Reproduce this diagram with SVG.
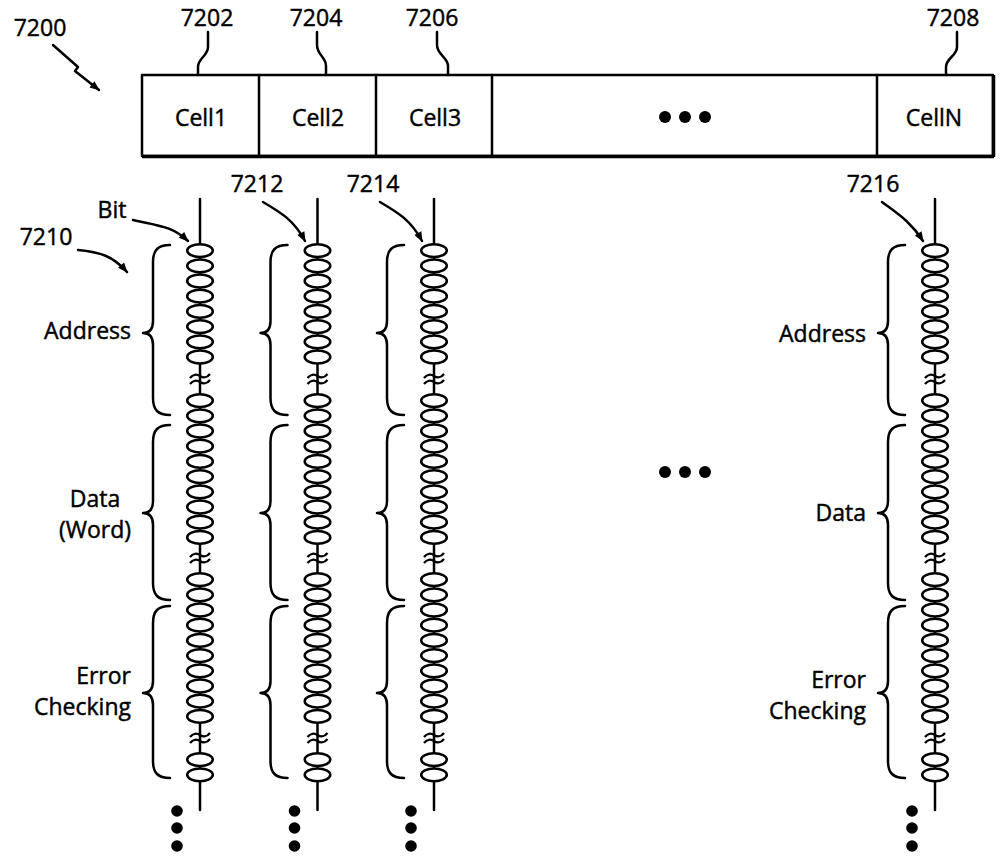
<svg xmlns="http://www.w3.org/2000/svg" xmlns:xlink="http://www.w3.org/1999/xlink" width="1004" height="858" viewBox="0 0 1004 858">
<style>
.s{fill:none;stroke:#000;stroke-width:2.5;stroke-linecap:round;stroke-linejoin:round}
.e{fill:#fff;stroke:#000;stroke-width:2.5}
.t{fill:none;stroke:#000;stroke-width:2.2}
.d{fill:#000}
text{font-family:"Open Sans","Noto Sans","DejaVu Sans",sans-serif;font-size:23px;fill:#000;stroke:#000;stroke-width:0.45}
.m{text-anchor:middle}
.r{text-anchor:end}
</style>
<defs>
<marker id="ah" viewBox="0 0 10 8" refX="9" refY="4" markerWidth="11" markerHeight="8" markerUnits="userSpaceOnUse" orient="auto">
<path d="M0,0 L10,4 L0,8 Z" fill="#000"/>
</marker>
<ellipse id="bit" cx="0" cy="0" rx="12.8" ry="6.4" class="e"/>
<path id="tilde" d="M-10,2 C-7,-2 -3,-2 0,0 S7,2 10,-2" class="t"/>
<g id="column">
<line x1="0" y1="199" x2="0" y2="810" class="s"/>
<use href="#bit" y="250.6"/><use href="#bit" y="265.8"/><use href="#bit" y="281"/><use href="#bit" y="296.2"/><use href="#bit" y="311.4"/><use href="#bit" y="326.6"/><use href="#bit" y="341.8"/><use href="#bit" y="357"/>
<use href="#tilde" y="376"/><use href="#tilde" y="382"/>
<use href="#bit" y="400.6"/><use href="#bit" y="415.8"/><use href="#bit" y="431"/><use href="#bit" y="446.2"/><use href="#bit" y="461.4"/><use href="#bit" y="476.6"/><use href="#bit" y="491.8"/><use href="#bit" y="507"/><use href="#bit" y="522.2"/><use href="#bit" y="537.4"/>
<use href="#tilde" y="555"/><use href="#tilde" y="561"/>
<use href="#bit" y="579.6"/><use href="#bit" y="594.8"/><use href="#bit" y="610"/><use href="#bit" y="625.2"/><use href="#bit" y="640.4"/><use href="#bit" y="655.6"/><use href="#bit" y="670.8"/><use href="#bit" y="686"/><use href="#bit" y="701.2"/><use href="#bit" y="716.4"/>
<use href="#tilde" y="735"/><use href="#tilde" y="741"/>
<use href="#bit" y="759.6"/><use href="#bit" y="774.8"/>
<path class="s" d="M-30,245 C-42,245 -47,250 -47,262 L-47,321 C-47,329 -50,333 -57,333 C-50,333 -47,337 -47,345 L-47,398 C-47,410 -42,415 -30,415"/>
<path class="s" d="M-30,425 C-42,425 -47,430 -47,442 L-47,501 C-47,509 -50,513 -57,513 C-50,513 -47,517 -47,525 L-47,583 C-47,595 -42,600 -30,600"/>
<path class="s" d="M-30,606 C-42,606 -47,611 -47,623 L-47,681 C-47,689 -50,693 -57,693 C-50,693 -47,697 -47,705 L-47,761 C-47,773 -42,778 -30,778"/>
<circle class="d" cx="-23" cy="811" r="5.8"/><circle class="d" cx="-23" cy="828" r="5.8"/><circle class="d" cx="-23" cy="846" r="5.8"/>
</g>
</defs>

<g id="label-7200">
<text x="40" y="36" class="m">7200</text>
<path class="s" d="M53,45 L78,67 L75,71 L99,90" marker-end="url(#ah)"/>
</g>

<g id="cells-7200">
<rect x="142" y="75" width="851" height="81" class="s"/>
<line x1="142" y1="156.5" x2="994" y2="156.5" stroke="#000" stroke-width="3.5"/>
<line x1="993.5" y1="75" x2="993.5" y2="157" stroke="#000" stroke-width="3.5"/>
</g>
<g id="cell1"><line x1="259" y1="75" x2="259" y2="156" class="s"/><text x="201" y="126" class="m">Cell1</text></g>
<g id="cell2"><line x1="376" y1="75" x2="376" y2="156" class="s"/><text x="318" y="126" class="m">Cell2</text></g>
<g id="cell3"><line x1="492" y1="75" x2="492" y2="156" class="s"/><text x="435" y="126" class="m">Cell3</text></g>
<g id="cell-ellipsis"><circle class="d" cx="665" cy="117" r="6"/><circle class="d" cx="685" cy="117" r="6"/><circle class="d" cx="705" cy="117" r="6"/></g>
<g id="cellN"><line x1="877" y1="75" x2="877" y2="156" class="s"/><text x="934" y="126" class="m">CellN</text></g>

<g id="refs-cells">
<text x="207" y="26" class="m">7202</text>
<text x="316" y="26" class="m">7204</text>
<text x="432" y="26" class="m">7206</text>
<text x="953" y="26" class="m">7208</text>
</g>

<g id="connectors">
<path class="s" d="M208,32 L208,47 C208,56 198,58 198,67 L198,75"/>
<path class="s" d="M317,32 L317,45 C317,55 326,57 326,66 L326,75"/>
<path class="s" d="M437,32 L437,45 C437,55 448,57 448,66 L448,75"/>
<path class="s" d="M957,32 L957,47 C957,56 946,58 946,67 L946,75"/>
<path class="s" d="M133,220 C160,226 172,226 188,241" marker-end="url(#ah)"/>
<path class="s" d="M263,202 C280,212 294,220 305,241" marker-end="url(#ah)"/>
<path class="s" d="M380,202 C397,212 411,220 422,241" marker-end="url(#ah)"/>
<path class="s" d="M882,202 C898,214 911,222 923,241" marker-end="url(#ah)"/>
<path class="s" d="M78,250 C100,252 113,256 127,272" marker-end="url(#ah)"/>
</g>

<g id="col-7210">
<use href="#column" x="200"/>
<text x="112" y="218" class="m">Bit</text>
<text x="46" y="245" class="m">7210</text>
<text x="131" y="339" class="r">Address</text>
<text x="95" y="507" class="m">Data</text>
<text x="95" y="538" class="m">(Word)</text>
<text x="131" y="684" class="r">Error</text>
<text x="131" y="715" class="r">Checking</text>
</g>

<g id="col-7212">
<use href="#column" x="317.5"/>
<text x="257" y="192" class="m">7212</text>
</g>

<g id="col-7214">
<use href="#column" x="434"/>
<text x="373" y="192" class="m">7214</text>
</g>

<g id="col-ellipsis"><circle class="d" cx="665" cy="472" r="6"/><circle class="d" cx="685" cy="472" r="6"/><circle class="d" cx="705" cy="472" r="6"/></g>

<g id="col-7216">
<use href="#column" x="935"/>
<text x="873" y="192" class="m">7216</text>
<text x="866" y="342" class="r">Address</text>
<text x="866" y="521" class="r">Data</text>
<text x="866" y="688" class="r">Error</text>
<text x="866" y="719" class="r">Checking</text>
</g>
</svg>
